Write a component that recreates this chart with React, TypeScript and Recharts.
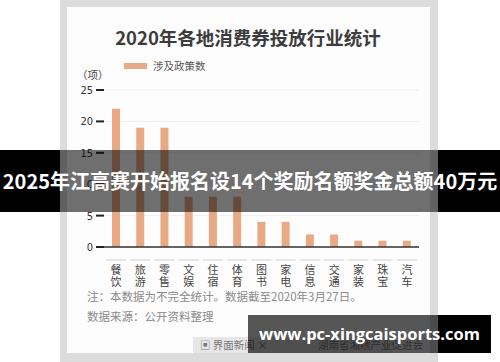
import React from 'react';
import { BarChart, Bar, XAxis, YAxis, CartesianGrid } from 'recharts';

const categories = ['餐饮', '旅游', '零售', '文娱', '住宿', '体育', '图书', '家电', '信息', '交通', '家装', '珠宝', '汽车'];
const policyCounts = [22, 19, 19, 8, 8, 8, 4, 4, 2, 2, 1, 1, 1];
const yTicks = [0, 5, 10, 15, 20, 25];

const titleText = '2020年各地消费券投放行业统计';
const legendText = '涉及政策数';
const unitText = '（项）';
const noteText = '注：本数据为不完全统计。数据截至2020年3月27日。';
const sourceText = '数据来源：公开资料整理';
const bannerText = '2025年江高赛开始报名设14个奖励名额奖金总额40万元';
const siteText = 'www.pc-xingcaisports.com';

const data = categories.map((name, i) => ({ name, value: policyCounts[i] }));

const BAR_COLOR = '#E9A985';
const CJK = '"Noto Sans CJK SC", "Noto Sans", sans-serif';
const NARROW = '"Liberation Sans Narrow", "DejaVu Sans Condensed", "Roboto", sans-serif';

const CategoryTick = (props: any) => {
  const { x, y, payload } = props;
  const chars: string[] = Array.from(String(payload.value));
  return (
    <g>
      <line x1={x - 10} x2={x + 10} y1={y + 5} y2={y + 5} stroke="#cfcfcf" strokeWidth={1} />
      <text
        x={x}
        y={y + 19}
        textAnchor="middle"
        fontSize={11}
        fill="#444"
        fontFamily={CJK}
      >
        {chars.map((c, i) => (
          <tspan key={i} x={x} dy={i === 0 ? 0 : 12}>
            {c}
          </tspan>
        ))}
      </text>
    </g>
  );
};

export default function App() {
  return (
    <div style={{ position: 'absolute', left: 0, top: 0, width: 500, height: 362, background: '#fff', overflow: 'hidden', fontFamily: CJK }}>
      {/* photo frame */}
      <div style={{ position: 'absolute', left: 60, top: 0, width: 378, height: 362, background: '#dcdcdc' }} />
      <div style={{ position: 'absolute', left: 67, top: 7, width: 363, height: 346, background: '#fdfdfd' }} />

      {/* title */}
      <div style={{ position: 'absolute', left: 0, width: 496, top: 24, textAlign: 'center', fontSize: 18.5, fontWeight: 700, color: '#3c3c3c', lineHeight: '26px' }}>
        {titleText}
      </div>

      {/* legend */}
      <div style={{ position: 'absolute', left: 124, top: 63, width: 23, height: 6, background: BAR_COLOR }} />
      <div style={{ position: 'absolute', left: 153, top: 59, fontSize: 10.5, lineHeight: '14px', color: '#555' }}>{legendText}</div>

      {/* unit */}
      <div style={{ position: 'absolute', left: 77, top: 68, fontSize: 10.5, lineHeight: '14px', color: '#444' }}>{unitText}</div>

      <div style={{ position: 'absolute', left: 0, top: 0 }}>
        <BarChart width={500} height={362} data={data} margin={{ top: 90, right: 81, bottom: 0, left: 0 }}>
          <CartesianGrid vertical={false} stroke="#eeeeee" />
          <XAxis
            dataKey="name"
            height={115}
            interval={0}
            tickLine={false}
            axisLine={{ stroke: '#333', strokeWidth: 1.5 }}
            tick={<CategoryTick />}
          />
          <YAxis
            width={104}
            domain={[0, 25]}
            ticks={yTicks}
            axisLine={false}
            tickLine={{ stroke: '#222', strokeWidth: 2 }}
            tickSize={8}
            tickMargin={3}
            tick={{ fontSize: 11, fill: '#333', fontFamily: NARROW }}
          />
          <Bar dataKey="value" fill={BAR_COLOR} barSize={8} isAnimationActive={false} />
        </BarChart>
      </div>

      {/* notes */}
      <div style={{ position: 'absolute', left: 87, top: 289, fontSize: 11.5, lineHeight: '15px', color: '#8a8a8a' }}>{noteText}</div>
      <div style={{ position: 'absolute', left: 87, top: 309, fontSize: 11.5, lineHeight: '15px', color: '#8a8a8a' }}>{sourceText}</div>

      {/* footer tab */}
      <div style={{ position: 'absolute', left: 193, top: 337, width: 200, height: 16, background: '#e6e6e6' }} />
      <div style={{ position: 'absolute', left: 200, top: 338, fontSize: 10.5, lineHeight: '14px', color: '#777' }}>▣ 界面新闻 ×</div>
      <div style={{ position: 'absolute', left: 318, top: 338, fontSize: 10.5, lineHeight: '14px', color: '#888' }}>湖南省湘绣产业促进会</div>

      {/* banner overlay */}
      <div style={{ position: 'absolute', left: 0, top: 150, width: 60, height: 62, background: '#000' }} />
      <div style={{ position: 'absolute', left: 60, top: 150, width: 378, height: 62, background: 'rgba(0,0,0,0.56)' }} />
      <div style={{ position: 'absolute', left: 438, top: 150, width: 62, height: 62, background: '#000' }} />
      <div style={{ position: 'absolute', left: 0, top: 150, width: 500, height: 62, lineHeight: '62px', textAlign: 'center', color: '#fff', fontWeight: 700, fontSize: 20, whiteSpace: 'nowrap' }}>
        {bannerText}
      </div>

      {/* site box */}
      <div style={{ position: 'absolute', left: 248, top: 315, width: 190, height: 38, background: 'rgba(0,0,0,0.66)' }} />
      <div style={{ position: 'absolute', left: 438, top: 315, width: 53, height: 38, background: '#000' }} />
      <div style={{ position: 'absolute', left: 248, top: 315, width: 243, height: 38, lineHeight: '38px', textAlign: 'center', color: '#fff', fontWeight: 700, fontSize: 16.5, fontFamily: '"Open Sans", "DejaVu Sans", sans-serif', whiteSpace: 'nowrap' }}>
        {siteText}
      </div>
    </div>
  );
}
